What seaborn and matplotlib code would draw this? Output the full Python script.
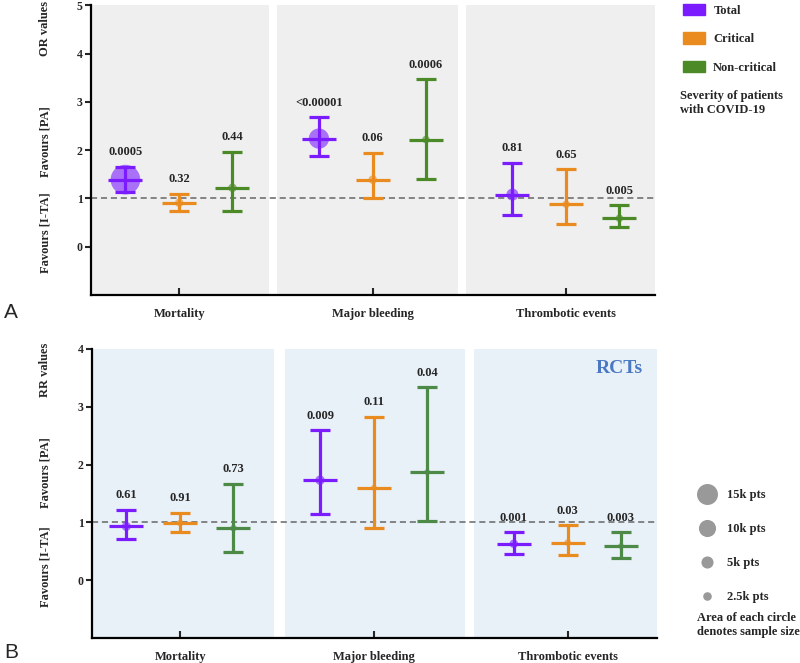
import numpy as np
import pandas as pd
import matplotlib.pyplot as plt
import seaborn as sns
from matplotlib.patches import Patch
from matplotlib.lines import Line2D

outcomes = ["Mortality", "Major bleeding", "Thrombotic events"]
groups = ["Total", "Critical", "Non-critical"]
colors = {"Total": "#7b1cff", "Critical": "#e98b1f", "Non-critical": "#4b8a26"}
colors_b = {"Total": "#7b1cff", "Critical": "#e98b1f", "Non-critical": "#4d8a47"}

# Panel A - OR (all studies), order: Mortality, Major bleeding, Thrombotic events
or_total = [1.39, 2.24, 1.08]
or_total_lo = [1.14, 1.87, 0.66]
or_total_hi = [1.66, 2.69, 1.74]
or_total_p = ["0.0005", "<0.00001", "0.81"]
or_total_n = [30000, 14000, 5000]

or_crit = [0.91, 1.39, 0.88]
or_crit_lo = [0.75, 1.00, 0.47]
or_crit_hi = [1.10, 1.95, 1.61]
or_crit_p = ["0.32", "0.06", "0.65"]
or_crit_n = [2500, 2500, 2000]

or_non = [1.22, 2.22, 0.59]
or_non_lo = [0.75, 1.41, 0.40]
or_non_hi = [1.97, 3.47, 0.86]
or_non_p = ["0.44", "0.0006", "0.005"]
or_non_n = [2500, 2000, 2000]

# Panel B - RR (RCTs)
rr_total = [0.93, 1.73, 0.63]
rr_total_lo = [0.71, 1.15, 0.45]
rr_total_hi = [1.22, 2.60, 0.83]
rr_total_p = ["0.61", "0.009", "0.001"]
rr_total_n = [2800, 3000, 2500]

rr_crit = [0.99, 1.60, 0.65]
rr_crit_lo = [0.84, 0.90, 0.43]
rr_crit_hi = [1.17, 2.83, 0.95]
rr_crit_p = ["0.91", "0.11", "0.03"]
rr_crit_n = [1500, 1200, 1500]

rr_non = [0.90, 1.87, 0.59]
rr_non_lo = [0.48, 1.03, 0.39]
rr_non_hi = [1.67, 3.34, 0.83]
rr_non_p = ["0.73", "0.04", "0.003"]
rr_non_n = [1500, 1200, 1200]

legend_n = [15000, 10000, 5000, 2500]
legend_lbl = ["15k pts", "10k pts", "5k pts", "2.5k pts"]


def make_df(tot, crit, non):
    rows = []
    for g, (est, lo, hi, p, n) in zip(groups, [tot, crit, non]):
        for i, o in enumerate(outcomes):
            rows.append(dict(outcome=o, group=g, est=est[i], lo=lo[i], hi=hi[i], p=p[i], n=n[i]))
    return pd.DataFrame(rows)


df_a = make_df((or_total, or_total_lo, or_total_hi, or_total_p, or_total_n),
               (or_crit, or_crit_lo, or_crit_hi, or_crit_p, or_crit_n),
               (or_non, or_non_lo, or_non_hi, or_non_p, or_non_n))
df_b = make_df((rr_total, rr_total_lo, rr_total_hi, rr_total_p, rr_total_n),
               (rr_crit, rr_crit_lo, rr_crit_hi, rr_crit_p, rr_crit_n),
               (rr_non, rr_non_lo, rr_non_hi, rr_non_p, rr_non_n))

offset = {"Total": -0.278, "Critical": 0.0, "Non-critical": 0.275}
for d in (df_a, df_b):
    d["x"] = d["outcome"].map({o: i for i, o in enumerate(outcomes)}) + d["group"].map(offset)

sns.set_style("ticks")
plt.rcParams["font.family"] = ["Liberation Serif", "DejaVu Serif"]
plt.rcParams["font.weight"] = "bold"

S15 = 228  # marker area (pt^2) for 15k patients
NMAX = 30000

fig = plt.figure(figsize=(8, 6.63), dpi=100)
ax_a = fig.add_axes([0.114, 0.555, 0.705, 0.437])
ax_b = fig.add_axes([0.115, 0.0377, 0.706, 0.436])


def draw(ax, d, pal, bg, bands, ylim):
    ax.set_xlim(-0.455, 2.46)
    ax.set_ylim(*ylim)
    for a, b in bands:
        ax.axvspan(a, b, color=bg, lw=0, zorder=0)
    ax.axhline(1, color="#666666", ls=(0, (4, 2.5)), lw=1.1, zorder=1)
    sns.scatterplot(data=d, x="x", y="est", hue="group", palette=pal, size="n",
                    sizes=(0, S15 * NMAX / 15000), size_norm=(0, NMAX), alpha=0.6,
                    edgecolor="none", legend=False, ax=ax, zorder=2)
    for _, r in d.iterrows():
        ax.errorbar(r["x"], r["est"], yerr=[[r["est"] - r["lo"]], [r["hi"] - r["est"]]],
                    fmt="_", ms=24, mew=2.3, color=pal[r["group"]], elinewidth=2.3,
                    capsize=7.2, capthick=2.3, zorder=3)
        ax.annotate(r["p"], (r["x"], r["hi"]), xytext=(0, 6), textcoords="offset points",
                    ha="center", va="bottom", fontsize=9, fontweight="bold")
    ax.set_xticks(range(3))
    ax.set_xticklabels(outcomes, fontsize=9, fontweight="bold")
    ax.set_yticks(range(0, int(ylim[1]) + 1))
    ax.tick_params(axis="x", direction="in", length=5, width=1.5, pad=9)
    ax.tick_params(axis="y", direction="out", length=4, width=1.5, pad=2, labelsize=8.5)
    for lab in ax.get_yticklabels():
        lab.set_fontweight("bold")
    ax.set_xlabel("")
    ax.set_ylabel("")
    sns.despine(ax=ax)
    for s in ("left", "bottom"):
        ax.spines[s].set_linewidth(1.6)
        ax.spines[s].set_color("black")


draw(ax_a, df_a, colors, "#efefef",
     [(-0.455, 0.465), (0.506, 1.442), (1.483, 2.46)], (-1, 5))
draw(ax_b, df_b, colors_b, "#e8f0f8",
     [(-0.455, 0.483), (0.54, 1.47), (1.515, 2.46)], (-1, 4))

ax_b.text(0.975, 0.96, "RCTs", transform=ax_b.transAxes, ha="right", va="top",
          fontsize=14, fontweight="bold", color="#4a78c2")

# y-axis side labels
def ylab(txt, y):
    fig.text(45 / 800, 1 - y / 663, txt, rotation=90, ha="center", va="center",
             fontsize=9, fontweight="bold")

ylab("OR values", 28)
ylab("Favours [PA]", 142)
ylab("Favours [I-TA]", 233)
ylab("RR values", 370)
ylab("Favours [PA]", 473)
ylab("Favours [I-TA]", 567)

fig.text(4 / 800, 1 - 312 / 663, "A", fontsize=15, family="Liberation Sans",
         fontweight="normal", va="center")
fig.text(4 / 800, 1 - 652 / 663, "B", fontsize=15, family="Liberation Sans",
         fontweight="normal", va="center")

# severity legend
handles = [Patch(color=colors[g]) for g in groups]
fig.legend(handles, groups, loc="upper left", bbox_to_anchor=(672 / 800, 1.011),
           frameon=False, prop=dict(family="Liberation Serif", weight="bold", size=9),
           handlelength=1.7, handleheight=1.0, labelspacing=1.25, handletextpad=0.7)
fig.text(680 / 800, 1 - 103 / 663, "Severity of patients\nwith COVID-19", ha="left",
         va="center", fontsize=9, fontweight="bold", linespacing=1.15)

# sample size legend
size_handles = [Line2D([], [], ls="none", marker="o", color="#999999",
                       ms=np.sqrt(S15 * n / 15000), mec="none") for n in legend_n]
fig.legend(size_handles, legend_lbl, loc="upper left", bbox_to_anchor=(686 / 800, 1 - 478 / 663),
           frameon=False, prop=dict(family="Liberation Serif", weight="bold", size=9),
           handlelength=1.5, labelspacing=1.75, handletextpad=0.9)
fig.text(697 / 800, 1 - 625 / 663, "Area of each circle\ndenotes sample size", ha="left",
         va="center", fontsize=9, fontweight="bold", linespacing=1.15)

fig.savefig("out.png", dpi=100)
